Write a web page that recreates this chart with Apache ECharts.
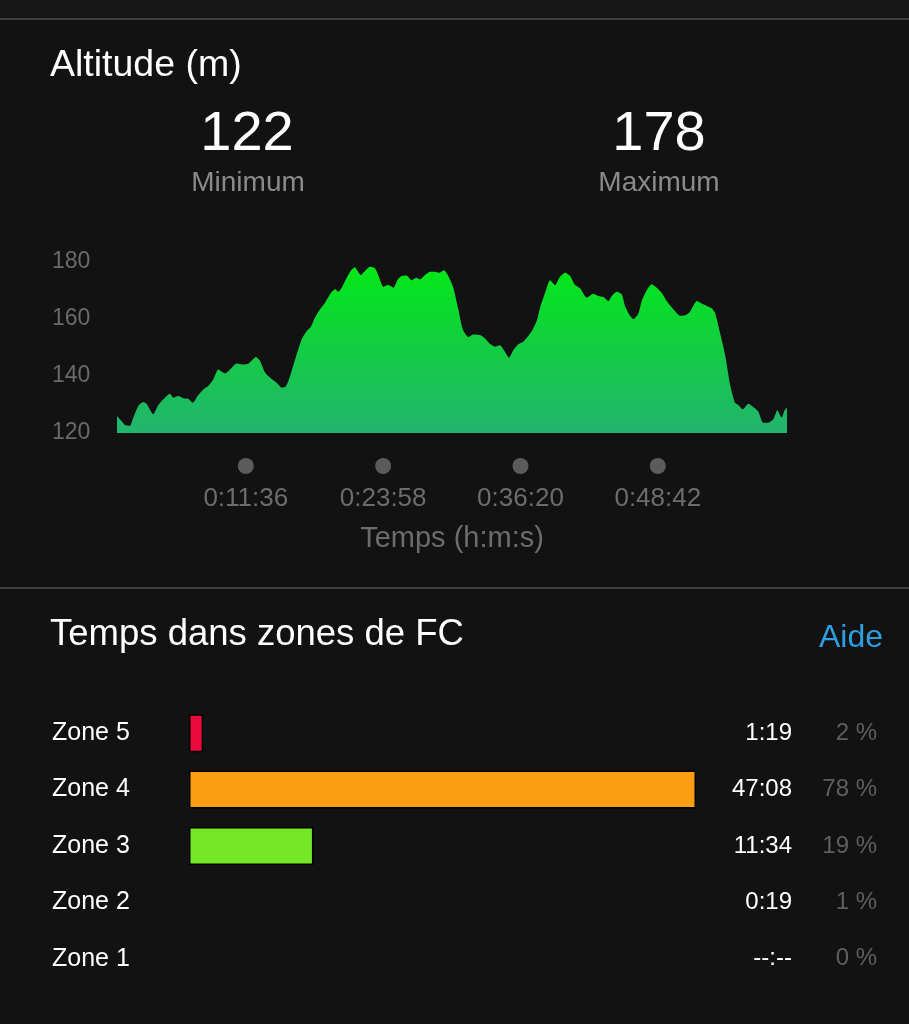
<!DOCTYPE html>
<html>
<head>
<meta charset="utf-8">
<script src="https://cdn.jsdelivr.net/npm/echarts@6/dist/echarts.min.js"></script>
<style>
html,body{margin:0;padding:0;background:#121212;}
#chart{width:909px;height:1024px;}
</style>
</head>
<body>
<div id="chart"></div>
<script>
// ---- Altitude profile (time in seconds, altitude in m) ----
const altTimes = [0,25,43,70,88,115,142,160,196,223,259,286,304,331,358,385,409,439,466,493,520,547,584,611,647,682,709,751,773,800,827,863,890,908,926,944,971,998,1025,1047,1070,1097,1124,1151,1178,1196,1214,1241,1268,1286,1298,1317,1340,1367,1394,1417,1439,1466,1493,1517,1538,1565,1592,1616,1637,1664,1691,1718,1741,1767,1790,1817,1844,1868,1898,1925,1961,1988,2015,2042,2069,2096,2118,2141,2168,2195,2222,2249,2271,2286,2313,2340,2367,2390,2421,2448,2475,2502,2538,2573,2601,2628,2655,2673,2700,2727,2745,2772,2790,2817,2835,2862,2889,2916,2943,2970,3006,3042,3069,3096,3132,3159,3186,3213,3231,3258,3285,3312,3339,3357,3381,3411,3447,3465,3492,3519,3546,3568,3591,3607,3620];
const altValues = [126,124.2,122.8,122.5,125.4,129.5,130.9,130.3,126.6,129.8,132.4,133.8,132.4,133.0,132.2,132.0,130.6,133.3,135.3,136.5,138.8,142.3,140.9,142.3,144.4,144.0,144.3,146.7,145.3,141.2,139.4,137.6,135.9,136.1,138.2,141.8,147.6,152.9,155.8,157.2,160.5,163.4,165.7,168.7,170.4,169.6,171.0,174.5,177.4,178.2,177.1,175.4,176.8,178.3,177.8,174.5,171.3,171.9,171.0,173.9,175.1,175.3,173.6,174.5,173.9,175.4,176.6,176.6,176.2,177.1,175.1,171.0,163.4,156.4,153.7,154.6,154.4,153.2,151.3,150.3,150.8,148.5,146.4,149.0,151.1,152.0,154.0,156.7,159.9,164.0,169.2,173.6,171.9,174.5,176.2,175.1,171.9,170.8,167.5,168.9,168.1,167.7,166.3,168.1,169.6,168.7,164.6,161.1,159.9,161.9,166.3,170.1,172.2,171.0,169.2,166.3,163.4,161.1,161.3,162.5,166.3,165.4,164.6,163.8,162.2,155.2,147.6,137.1,130.6,129.8,128.3,130.3,128.7,127.5,123.6,123.6,124.8,128.0,125.4,128.0,128.9];
const altMin = 122, altMax = 178;
const altTotal = 3620;
const altYTicks = [120, 140, 160, 180];
const timeTicks = [696, 1438, 2180, 2922];   // 0:11:36, 0:23:58, 0:36:20, 0:48:42

// ---- Heart-rate zones ----
const zoneNames = ['Zone 5', 'Zone 4', 'Zone 3', 'Zone 2', 'Zone 1'];
const zoneTimeLabels = ['1:19', '47:08', '11:34', '0:19', '--:--'];
const zonePercents = ['2 %', '78 %', '19 %', '1 %', '0 %'];
const zoneBarSeconds = [79, 2828, 694, 0, 0];   // zone 2 bar is not drawn in the source
const zoneColors = ['#ec0a3c', '#fd9d12', '#74e826', '#2b9fe0', '#888888'];

function hms(s) {
  const h = Math.floor(s / 3600), m = Math.floor((s % 3600) / 60), sec = s % 60;
  return h + ':' + String(m).padStart(2, '0') + ':' + String(sec).padStart(2, '0');
}

const FONT = '"Liberation Sans", Arial, sans-serif';
const chart = echarts.init(document.getElementById('chart'), null, {renderer: 'canvas'});

const option = {
  backgroundColor: '#121212',
  animation: false,
  textStyle: {fontFamily: FONT},
  grid: [
    {left: 117, right: 122, top: 262, height: 171},
    {left: 117, right: 122, top: 456, height: 20},
    {left: 189, right: 213, top: 705, bottom: 37}
  ],
  xAxis: [
    {gridIndex: 0, type: 'value', min: 0, max: altTotal, show: false},
    {gridIndex: 1, type: 'value', min: 0, max: altTotal,
     axisLine: {show: false}, axisTick: {show: false}, splitLine: {show: false},
     axisLabel: {customValues: timeTicks, formatter: v => hms(v), color: '#6c6c6c', fontSize: 26, margin: 10, fontFamily: FONT},
     name: 'Temps (h:m:s)', nameLocation: 'middle', nameGap: 48,
     nameTextStyle: {color: '#6c6c6c', fontSize: 29, fontFamily: FONT}},
    {gridIndex: 2, type: 'value', min: 0, max: 2828, show: false}
  ],
  yAxis: [
    {gridIndex: 0, type: 'value', min: 120, max: 180, interval: 20,
     axisLine: {show: false}, axisTick: {show: false}, splitLine: {show: false},
     axisLabel: {customValues: altYTicks, color: '#6a6a6a', fontSize: 23, align: 'left', margin: 65, fontFamily: FONT}},
    {gridIndex: 1, type: 'value', min: 0, max: 1, show: false},
    {gridIndex: 2, type: 'category', data: zoneNames, inverse: true,
     axisLine: {show: false}, axisTick: {show: false}, splitLine: {show: false},
     axisLabel: {color: '#ffffff', fontSize: 25, align: 'left', margin: 137, fontFamily: FONT}},
    {gridIndex: 2, type: 'category', data: zoneNames, inverse: true, position: 'right',
     axisLine: {show: false}, axisTick: {show: false}, splitLine: {show: false},
     axisLabel: {align: 'right', margin: 181,
       formatter: (v, i) => '{t|' + zoneTimeLabels[i] + '}{p|' + zonePercents[i] + '}',
       rich: {
         t: {width: 110, align: 'right', color: '#ffffff', fontSize: 24, fontFamily: FONT},
         p: {width: 85, align: 'right', color: '#5f5f5f', fontSize: 24, fontFamily: FONT}
       }}}
  ],
  series: [
    {type: 'line', xAxisIndex: 0, yAxisIndex: 0, showSymbol: false, smooth: 0.2,
     data: altTimes.map((t, i) => [t, altValues[i]]),
     lineStyle: {width: 0},
     areaStyle: {opacity: 1, color: new echarts.graphic.LinearGradient(0, 0, 0, 1, [
       {offset: 0, color: '#02e817'}, {offset: 0.45, color: '#12cf3f'}, {offset: 1, color: '#22b46f'}])}},
    {type: 'scatter', xAxisIndex: 1, yAxisIndex: 1, symbolSize: 16,
     itemStyle: {color: '#6e6e6e'},
     data: timeTicks.map(t => [t, 0.5])},
    {type: 'bar', xAxisIndex: 2, yAxisIndex: 2, barWidth: 38,
     data: zoneBarSeconds.map((v, i) => ({value: v, itemStyle: {color: zoneColors[i], borderColor: '#000000', borderWidth: v > 0 ? 1.5 : 0, opacity: v > 0 ? 1 : 0}}))}
  ],
  graphic: [
    {type: 'rect', shape: {x: 0, y: 0, width: 909, height: 18}, style: {fill: '#171717'}, silent: true},
    {type: 'rect', shape: {x: 0, y: 18, width: 909, height: 2}, style: {fill: '#3e3e3e'}, silent: true},
    {type: 'rect', shape: {x: 0, y: 587, width: 909, height: 2}, style: {fill: '#3e3e3e'}, silent: true},
    {type: 'text', style: {x: 50, y: 66, text: 'Altitude (m)', fill: '#ffffff', font: '37.5px ' + FONT, textVerticalAlign: 'middle'}},
    {type: 'text', style: {x: 247, y: 135, text: String(altMin), fill: '#ffffff', font: '56px ' + FONT, textAlign: 'center', textVerticalAlign: 'middle'}},
    {type: 'text', style: {x: 248, y: 183, text: 'Minimum', fill: '#8a8a8a', font: '28px ' + FONT, textAlign: 'center', textVerticalAlign: 'middle'}},
    {type: 'text', style: {x: 659, y: 135, text: String(altMax), fill: '#ffffff', font: '56px ' + FONT, textAlign: 'center', textVerticalAlign: 'middle'}},
    {type: 'text', style: {x: 659, y: 183, text: 'Maximum', fill: '#8a8a8a', font: '28px ' + FONT, textAlign: 'center', textVerticalAlign: 'middle'}},
    {type: 'text', style: {x: 50, y: 635, text: 'Temps dans zones de FC', fill: '#ffffff', font: '36.5px ' + FONT, textVerticalAlign: 'middle'}},
    {type: 'text', style: {x: 883, y: 638, text: 'Aide', fill: '#2d9fe0', font: '32px ' + FONT, textAlign: 'right', textVerticalAlign: 'middle'}}
  ]
};
chart.setOption(option);
</script>
</body>
</html>
